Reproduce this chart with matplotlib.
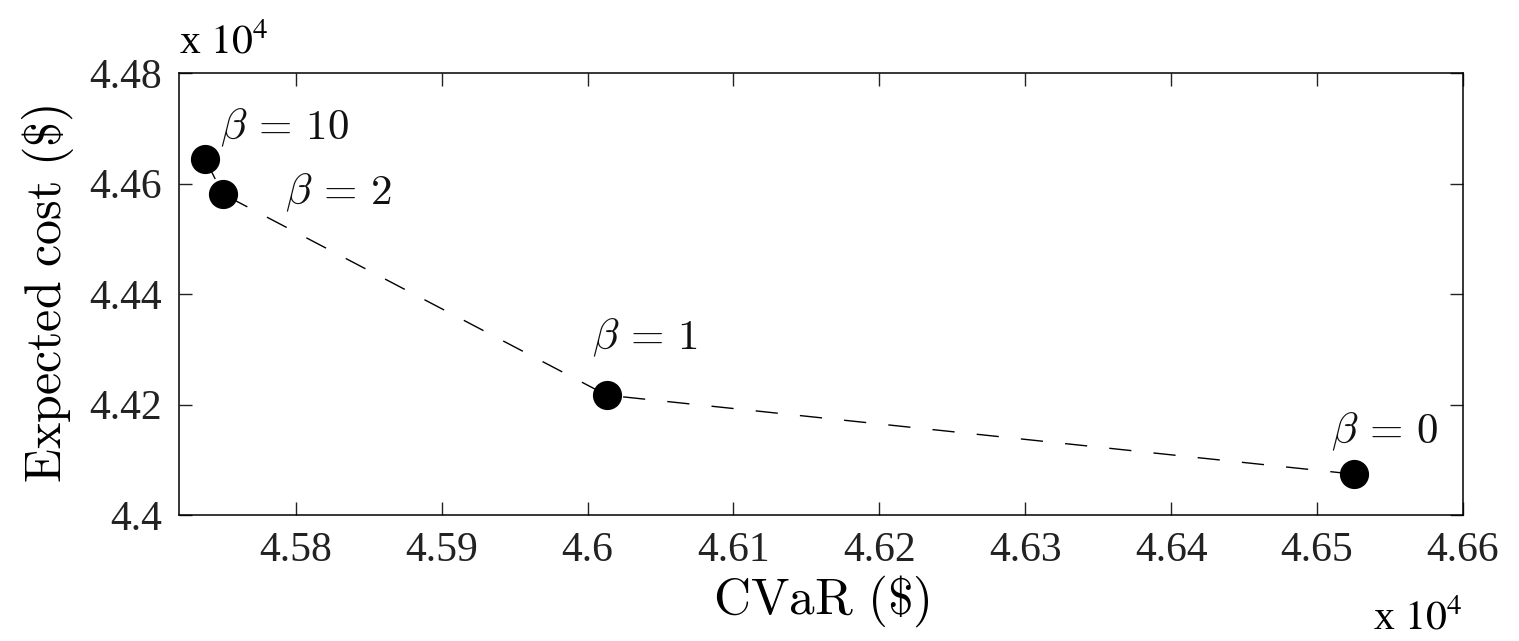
import matplotlib
matplotlib.use("Agg")
import matplotlib.pyplot as plt

# Data (values in units of 10^4 $)
labels = ["10", "2", "1", "0"]
cvar = [4.5738, 4.5750, 4.6013, 4.6525]
expected_cost = [4.4644, 4.4581, 4.4217, 4.4074]
# label offsets in pixels (dx to left edge, dy to vertical centre)
label_offsets = [(15, 31), (62, 1), (-15, 57), (-23, 42)]

xticks = [4.58, 4.59, 4.60, 4.61, 4.62, 4.63, 4.64, 4.65, 4.66]
xticklabels = ["4.58", "4.59", "4.6", "4.61", "4.62", "4.63", "4.64", "4.65", "4.66"]
yticks = [4.40, 4.42, 4.44, 4.46, 4.48]
yticklabels = ["4.4", "4.42", "4.44", "4.46", "4.48"]

plt.rcParams['mathtext.fontset'] = 'cm'

fig = plt.figure(figsize=(15.19, 6.41), dpi=100)
ax = fig.add_axes([179/1519, 1-515/641, (1463-179)/1519, (515-73)/641])

ax.plot(cvar, expected_cost, linestyle=(0, (16, 16)), color='black', linewidth=1.0, zorder=2)
ax.plot(cvar, expected_cost, linestyle='none', marker='o', markersize=20,
        markerfacecolor='black', markeredgecolor='black', zorder=3)

for lab, x, y, (dx, dy) in zip(labels, cvar, expected_cost, label_offsets):
    ax.annotate(r'$\beta\,=\,%s$' % lab, xy=(x, y), xytext=(dx*0.72, dy*0.72),
                textcoords='offset points', fontsize=31, ha='left', va='center',
                color='#111111')

ax.set_xlim(4.572, 4.66)
ax.set_ylim(4.40, 4.48)
ax.set_xticks(xticks)
ax.set_xticklabels(xticklabels, fontfamily='Liberation Serif', fontsize=30)
ax.set_yticks(yticks)
ax.set_yticklabels(yticklabels, fontfamily='Liberation Serif', fontsize=30)
ax.tick_params(direction='in', length=9.5, width=1.0, top=True, right=True, pad=12,
               colors='#222222')
for s in ax.spines.values():
    s.set_linewidth(1.1)

ax.set_xlabel(r'$\mathrm{CVaR\ (\$)}$', fontsize=37, labelpad=2)
ax.set_ylabel(r'$\mathrm{Expected\ cost\ (\$)}$', fontsize=36, labelpad=10)

fig.text(179/1519, 1-53/641, r'x $10^4$', fontfamily='Liberation Serif', fontsize=30,
         math_fontfamily='stix', ha='left', va='baseline')
fig.text(1373/1519, 3/641, r'x $10^4$', fontfamily='Liberation Serif', fontsize=30,
         math_fontfamily='stix', ha='left', va='bottom')

fig.savefig("out.png", dpi=100)
